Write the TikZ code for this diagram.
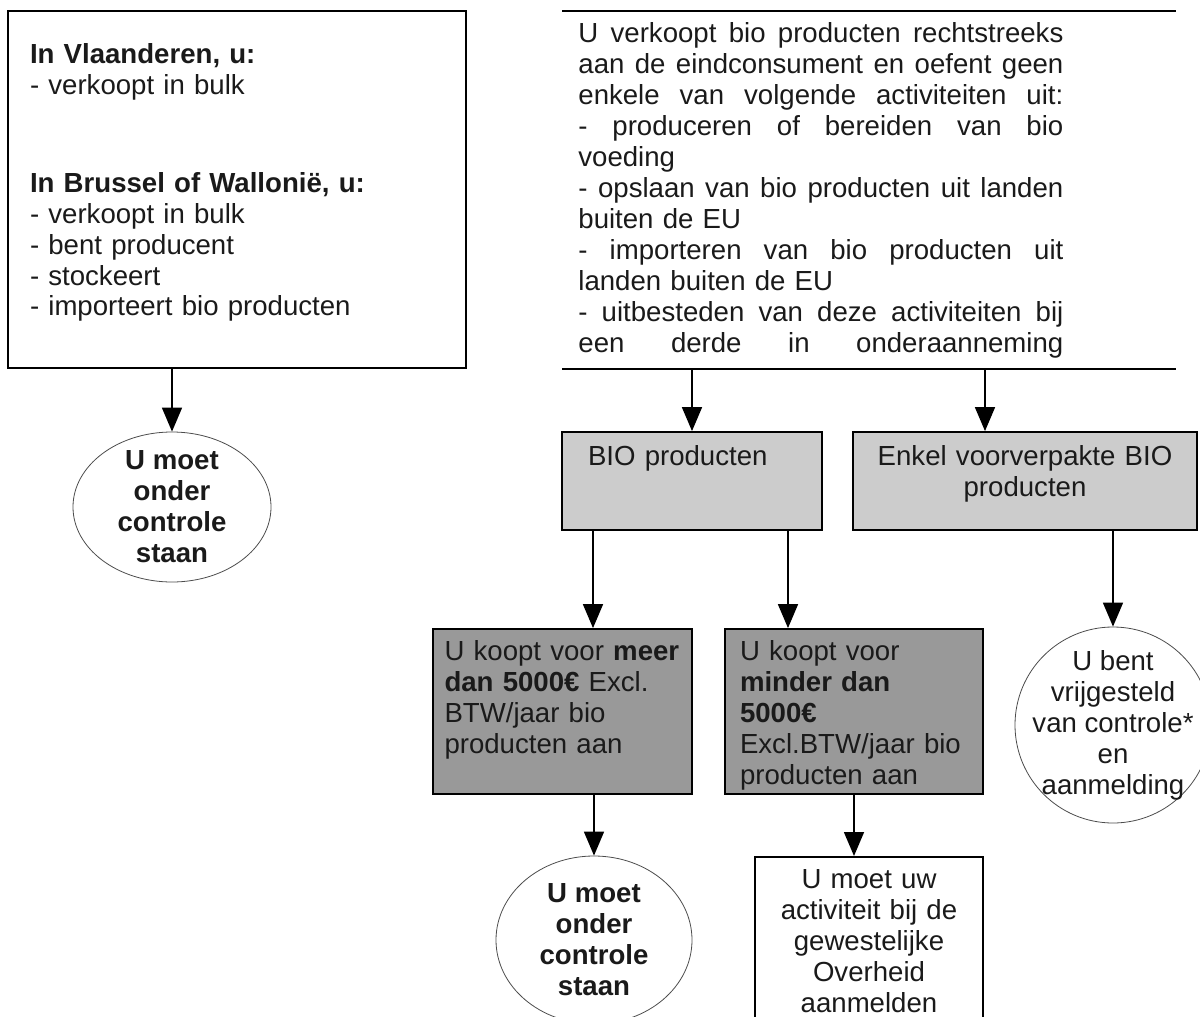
\documentclass[tikz,border=0pt]{standalone}
\usepackage{fontspec}
\setmainfont{Liberation Sans}
\usetikzlibrary{arrows.meta,shapes.geometric}

\definecolor{LG}{HTML}{CCCCCC}
\definecolor{DG}{HTML}{999999}
\definecolor{TX}{HTML}{1A1A1A}

\newcommand{\fulline}[1]{{\spaceskip=.278em plus 1fil\makebox[242.5pt][s]{#1}}}

\begin{document}
\begin{tikzpicture}[x=0.5pt, y=-0.5pt,
    every node/.style={font=\fontsize{13.8}{15.5}\selectfont, text=TX},
    box/.style={draw, line width=0.9pt, rectangle, align=left, text height=10pt},
    oval/.style={draw=black!70, thin, ellipse, align=center, inner sep=-6pt, font=\fontsize{13.8}{15.5}\selectfont\bfseries},
    ring/.style={draw=black!70, thin, circle, align=center, inner sep=-8pt, minimum size=98pt},
    arr/.style={line width=0.8pt, -{Triangle[length=12pt,width=10pt]}}]
    \useasboundingbox (0,0) rectangle (1200,1017);

    % left column
    \node[box, text width=207pt, inner xsep=11pt, inner ysep=16pt, text depth=136.5pt] (regio) at (237,189.5)
        {\textbf{In Vlaanderen, u:}\\ - verkoopt in bulk\\[33.5pt]
         \textbf{In Brussel of Wallonië, u:}\\ - verkoopt in bulk\\ - bent producent\\ - stockeert\\ - importeert bio producten};
    \node[oval, minimum width=99pt, minimum height=75pt] (ctrl1) at (172,507) {U moet\\onder\\controle\\staan};

    % right part
    \node[align=left, anchor=north west, text width=242.5pt, inner xsep=8pt, inner ysep=5.5pt,
          text height=10pt, text depth=157.5pt] (acts) at (562,11)
        {\fulline{U verkoopt bio producten rechtstreeks}\\
         \fulline{aan de eindconsument en oefent geen}\\
         \fulline{enkele van volgende activiteiten uit:}\\
         \fulline{- produceren of bereiden van bio}\\
         voeding\\
         \fulline{- opslaan van bio producten uit landen}\\
         buiten de EU\\
         \fulline{- importeren van bio producten uit}\\
         landen buiten de EU\\
         \fulline{- uitbesteden van deze activiteiten bij}\\
         \fulline{een derde in onderaanneming}};
    \draw[line width=0.9pt] (acts.north west) -- ++(614,0);
    \draw[line width=0.9pt] (acts.south west) -- ++(614,0);

    \node[box, fill=LG, text width=104pt, inner xsep=13pt, inner ysep=6.5pt, text depth=26pt] (bio) at (692,481) {BIO producten};
    \node[box, fill=LG, align=center, text width=156pt, inner xsep=8pt, inner ysep=6.5pt, text depth=26pt] (enkel) at (1025,481)
        {Enkel voorverpakte BIO\\producten};

    \node[box, fill=DG, text width=118pt, inner xsep=5.75pt, inner ysep=5.5pt, text depth=61.5pt] (meer) at (562.5,711.5)
        {U koopt voor \textbf{meer}\\\textbf{dan 5000€} Excl.\\BTW/jaar bio\\producten aan};
    \node[box, fill=DG, text width=114pt, inner xsep=7.5pt, inner ysep=5.5pt, text depth=61.5pt] (minder) at (854,711.5)
        {U koopt voor\\\textbf{minder dan}\\\textbf{5000€}\\Excl.BTW/jaar bio\\producten aan};
    \node[ring] (vrij) at (1113,725) {U bent\\vrijgesteld\\van controle*\\en\\aanmelding};

    \node[oval, minimum width=98pt, minimum height=84pt] (ctrl2) at (594,940) {U moet\\onder\\controle\\staan};
    \node[box, align=center, anchor=north, text width=102pt, inner xsep=6pt, inner ysep=6pt, text depth=100pt] (melden) at (869,856)
        {U moet uw\\activiteit bij de\\gewestelijke\\Overheid\\aanmelden};

    % connectors
    \coordinate (fork) at (985,368);
    \coordinate (b1) at ([xshift=-49.5pt]bio.south);
    \coordinate (b2) at ([xshift=48pt]bio.south);
    \draw[arr] (ctrl1.north |- regio.south) -- (ctrl1.north);
    \draw[arr] (bio.north |- acts.south) -- (bio.north);
    \draw[arr] (fork) -- (fork |- enkel.north);
    \draw[arr] (b1) -- (b1 |- meer.north);
    \draw[arr] (b2) -- (b2 |- minder.north);
    \draw[arr] (vrij.north |- enkel.south) -- (vrij.north);
    \draw[arr] (ctrl2.north |- meer.south) -- (ctrl2.north);
    \draw[arr] (minder.south) -- (minder.south |- melden.north);
\end{tikzpicture}
\end{document}
